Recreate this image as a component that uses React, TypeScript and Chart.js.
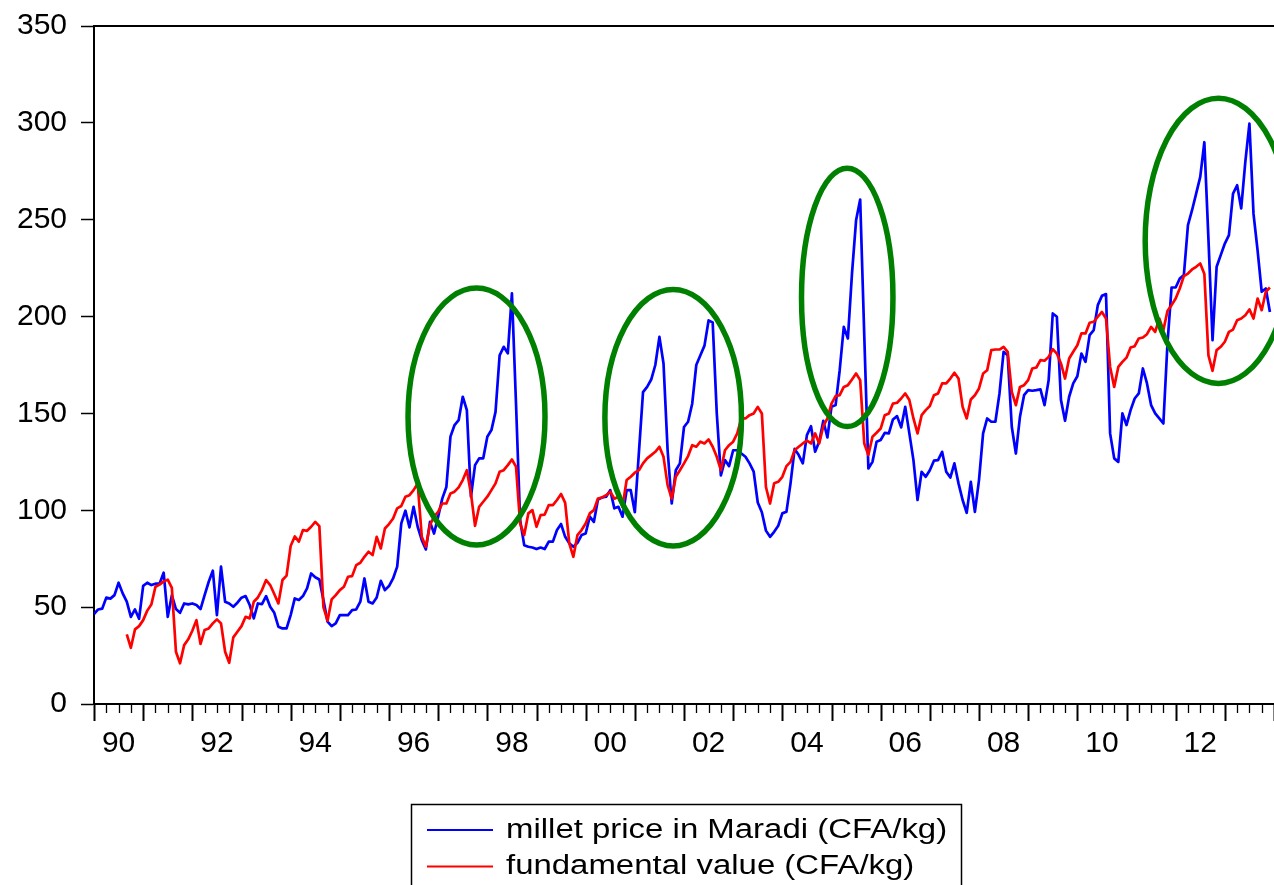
import React, { useEffect, useRef } from 'react';
import { Chart, registerables } from 'chart.js';

Chart.register(...registerables);

// ---------- data ----------
const START_YEAR = 1990;
const END_YEAR = 2014;

const seriesLabels = ['millet price in Maradi (CFA/kg)', 'fundamental value (CFA/kg)'];

// monthly, 1990m1 .. 2013m12
const milletPrice: number[] = [
  46.4, 48.8, 49.2, 54.9, 54.4, 56.2, 62.6, 57.1, 52.8, 45,
  48.8, 44, 61, 62.6, 61.4, 62.1, 62.1, 67.8, 45, 56.2,
  49, 47.1, 51.9, 51.4, 51.9, 51.1, 49, 56.2, 63.1, 68.8,
  45.9, 70.9, 52.8, 51.9, 50.2, 52.3, 54.9, 55.7, 51.1, 44.2,
  51.9, 51.6, 55.7, 50.2, 47.1, 39.9, 39, 39, 45.9, 54.5,
  53.7, 55.7, 59.7, 67.4, 65.4, 64.3, 53.7, 42.5, 40.2, 41.6,
  45.9, 45.9, 45.9, 48.5, 48.8, 52.8, 64.8, 52.8, 51.9, 55,
  63.6, 58.8, 60.9, 64.8, 70.9, 93.2, 99.8, 91.2, 101.8, 91.5,
  84.6, 79.8, 94, 88, 96.7, 106, 112, 138, 144, 146.5,
  158.6, 151.7, 107, 123.3, 126.8, 126.8, 138, 141.4, 150.8, 180,
  184.4, 181, 212, 155, 95, 82, 81.2, 80.8, 80, 80.8,
  80, 83.8, 83.8, 89.8, 92.9, 86.3, 82.9, 81.2, 83.2, 87.2,
  88, 96.7, 94, 105.6, 106.6, 107, 110.4, 101, 101.8, 96.7,
  110.4, 110.4, 99, 130, 161, 163.7, 167.5, 175, 189.5, 175.8,
  131, 103.5, 120.7, 124.2, 143, 145.7, 155, 175, 180, 185,
  198, 197, 150, 118, 125.9, 122.8, 131, 131, 129.3, 127.6,
  124.2, 120, 104, 99, 89.5, 86.3, 88.9, 92, 98.4, 99.2,
  113.9, 131.7, 128.5, 124.2, 138.8, 143.4, 130.2, 135.4, 146.2, 137.6,
  153.4, 154.3, 172.3, 194.7, 188.7, 222.2, 249.7, 260.4, 190, 121.6,
  125, 135.4, 136.3, 140, 139.7, 146.9, 148.6, 142.8, 153.4, 139.7,
  125.9, 105.3, 119.9, 117.3, 120.7, 125.6, 125.9, 130.2, 119.9, 116.9,
  124.2, 113.9, 105.3, 98.7, 114.7, 99.2, 115.6, 139.7, 147.4, 145.7,
  145.7, 160.3, 181.8, 180, 143.1, 129.3, 148.3, 159.4, 162, 161.7,
  162, 162.4, 154.3, 167.2, 201.6, 199.9, 157, 146.2, 158.6, 165.5,
  169.2, 180.9, 176.6, 190.4, 193, 205.9, 210.7, 211.6, 139.7, 126.8,
  125, 150, 144, 151.7, 157.7, 160.3, 173.2, 165.5, 154.3, 150,
  147.4, 144.8, 186.1, 215, 215, 219.6, 221.4, 247.2, 254.9, 263.5,
  272.1, 290, 240, 187.8, 225.7, 231.7, 237.7, 242, 263.5, 267.8,
  255.8, 279.8, 299.6, 253, 234, 212.8, 214.5, 202.4,
];

const fundamentalValue: (number | null)[] = [
  null, null, null, null, null, null, null, null, 35.9, 29,
  38.5, 40.2, 43.3, 48.2, 51.4, 60.5, 61.6, 63.3, 64.2, 60,
  27, 21, 30.4, 33.4, 37.8, 43.3, 31, 38.2, 39, 41.6,
  43.7, 41.6, 27, 21.3, 34.4, 37.3, 40.2, 45, 44.2, 52.8,
  55, 58.8, 64, 61.4, 56.8, 51.9, 64, 66.3, 81.6, 86.5,
  83.8, 89.8, 89.4, 91.5, 94, 91.8, 50, 43, 54, 56.2,
  58.8, 60.5, 65.7, 66, 71.7, 72.9, 76, 78.6, 76.9, 86.3,
  80.3, 90.6, 92.9, 95.8, 101, 102.2, 107, 107.8, 110.4, 113.9,
  86.3, 81.2, 92.4, 96.7, 99.2, 103.5, 103.5, 108.7, 109.6, 111.8,
  115.6, 120.7, 108.7, 92, 101.8, 104.4, 107, 110.4, 113.9, 119.9,
  120.7, 123.3, 126.2, 122.5, 93.2, 87.2, 98.4, 100.1, 91.5, 97.5,
  97.8, 102.7, 102.7, 105.3, 108.4, 103.8, 82.9, 76, 87.2, 89.8,
  93.2, 98.4, 100.1, 106.1, 106.6, 107.8, 109.6, 106, 107, 101.8,
  115.6, 117.3, 119.4, 120.7, 124.2, 126.8, 128.5, 130.2, 132.8, 127.6,
  113, 106, 117.3, 120.7, 124.2, 128, 133.6, 132.8, 135.4, 134.5,
  136.6, 132.8, 127.6, 120.7, 131, 133.6, 135.4, 139.7, 147.4, 147.4,
  149.1, 150, 153.4, 150, 112, 103.5, 113.9, 114.7, 117.3, 122.8,
  125, 131, 132.8, 134.5, 135.9, 134.5, 139.7, 134.5, 143.4, 147.4,
  155.1, 158.9, 159.4, 163.7, 164.6, 167.5, 170.6, 167.2, 134.5, 128.5,
  138, 140, 142.2, 149.1, 150, 155.1, 155.5, 157.7, 160.3, 156.9,
  147.4, 139.7, 149.1, 151.7, 153.8, 159.4, 160.3, 165.5, 165.5, 168,
  171, 168, 153.4, 147.4, 157.2, 159.4, 162.9, 170.6, 172.3, 182.7,
  183, 183, 184.4, 181.8, 161.1, 154.3, 163.7, 164.6, 167.2, 173.2,
  173.7, 177.5, 177.2, 179.2, 183.2, 180.9, 175.8, 168, 178.4, 181.8,
  185.2, 191.3, 191.3, 196.8, 197.3, 199.9, 202.4, 199, 174, 163.7,
  174, 176.6, 178.8, 184, 184.7, 188.7, 189.2, 190.9, 194.7, 192.1,
  199, 193, 202.9, 205.9, 209.3, 214.5, 220.9, 222.2, 224.3, 225.7,
  227.4, 222, 180, 172, 182.7, 184.4, 187, 192.1, 193.3, 198.1,
  199, 200.7, 203.7, 199, 209.3, 203.3, 212.8, 215,
];

// x tick labels (placed mid-year)
const xTickYears = [1990, 1992, 1994, 1996, 1998, 2000, 2002, 2004, 2006, 2008, 2010, 2012];
const xTickLabels = ['90', '92', '94', '96', '98', '00', '02', '04', '06', '08', '10', '12'];
const yTicks = [0, 50, 100, 150, 200, 250, 300, 350];

// highlighted bubble episodes (ellipses, data coordinates)
const ellipseCenterX = [1997.78, 2001.78, 2005.32, 2012.87];
const ellipseCenterY = [148.4, 147.8, 209.9, 239.1];
const ellipseRadiusX = [1.393, 1.389, 0.93, 1.49];
const ellipseRadiusY = [66.3, 66.2, 66.7, 73.6];

// ---------- styles ----------
const FONT = "'Liberation Sans', Arial, Helvetica, sans-serif";
const BLUE = '#0000ff';
const RED = '#ff0000';
const GREEN = '#008000';

const toPoints = (vals: (number | null)[]) =>
  vals.map((v, i) => ({ x: START_YEAR + i / 12, y: v }));

const decorPlugin = {
  id: 'decor',
  afterDatasetsDraw(chart: any) {
    const { ctx, scales } = chart;
    const x = scales.x;
    const y = scales.y;
    ctx.save();
    ctx.strokeStyle = GREEN;
    ctx.lineWidth = 5.5;
    for (let k = 0; k < ellipseCenterX.length; k++) {
      const cx = x.getPixelForValue(ellipseCenterX[k]);
      const cy = y.getPixelForValue(ellipseCenterY[k]);
      const rx = Math.abs(x.getPixelForValue(ellipseCenterX[k] + ellipseRadiusX[k]) - cx);
      const ry = Math.abs(y.getPixelForValue(ellipseCenterY[k] + ellipseRadiusY[k]) - cy);
      ctx.beginPath();
      ctx.ellipse(cx, cy, rx, ry, 0, 0, Math.PI * 2);
      ctx.stroke();
    }
    ctx.restore();
  },
  afterDraw(chart: any) {
    const { ctx, chartArea, scales } = chart;
    const x = scales.x;
    ctx.save();
    // top frame
    ctx.strokeStyle = '#000';
    ctx.lineWidth = 2;
    ctx.beginPath();
    ctx.moveTo(chartArea.left - 1, chartArea.top);
    ctx.lineTo(chartArea.right + 2, chartArea.top);
    ctx.stroke();
    // x tick marks: quarters (minor) and years (major)
    const nQ = (END_YEAR - START_YEAR) * 4;
    for (let q = 0; q <= nQ; q++) {
      const px = Math.round(x.getPixelForValue(START_YEAR + q / 4)) + 0.5;
      const major = q % 4 === 0;
      ctx.lineWidth = major ? 2 : 1.3;
      ctx.beginPath();
      ctx.moveTo(px, chartArea.bottom);
      ctx.lineTo(px, chartArea.bottom + (major ? 17 : 9));
      ctx.stroke();
    }
    // legend box
    const boxL = 411.5, boxT = 804.5, boxW = 550, boxH = 140;
    ctx.lineWidth = 1.5;
    ctx.strokeStyle = '#000';
    ctx.strokeRect(boxL, boxT, boxW, boxH);
    const lineRows = [830, 866.5];
    const baseRows = [837.5, 873.5];
    chart.data.datasets.forEach((ds: any, i: number) => {
      ctx.strokeStyle = ds.borderColor;
      ctx.lineWidth = 2.2;
      ctx.beginPath();
      ctx.moveTo(427, lineRows[i]);
      ctx.lineTo(493, lineRows[i]);
      ctx.stroke();
      ctx.save();
      ctx.fillStyle = '#000';
      ctx.font = `27px ${FONT}`;
      ctx.textBaseline = 'alphabetic';
      ctx.textAlign = 'left';
      ctx.translate(506, baseRows[i]);
      ctx.scale(1.22, 1);
      ctx.fillText(ds.label, 0, 0);
      ctx.restore();
    });
    ctx.restore();
  },
};

export default function App() {
  const canvasRef = useRef<HTMLCanvasElement>(null);

  useEffect(() => {
    const canvas = canvasRef.current;
    if (!canvas) return;
    const chart = new Chart(canvas, {
      type: 'line',
      data: {
        datasets: [
          {
            label: seriesLabels[0],
            data: toPoints(milletPrice) as any,
            borderColor: BLUE,
            borderWidth: 2.7,
            pointRadius: 0,
            tension: 0,
            fill: false,
            borderJoinStyle: 'round',
            order: 1,
          },
          {
            label: seriesLabels[1],
            data: toPoints(fundamentalValue) as any,
            borderColor: RED,
            borderWidth: 2.7,
            pointRadius: 0,
            tension: 0,
            fill: false,
            borderJoinStyle: 'round',
            spanGaps: false,
            order: 0,
          },
        ],
      },
      options: {
        responsive: false,
        animation: false,
        devicePixelRatio: 1,
        layout: { padding: { top: 26, right: 0, bottom: 0, left: 0 } },
        plugins: { legend: { display: false }, tooltip: { enabled: false } },
        scales: {
          x: {
            type: 'linear',
            min: START_YEAR,
            max: END_YEAR,
            afterBuildTicks: (scale: any) => {
              scale.ticks = xTickYears.map((yr) => ({ value: yr + 0.5 }));
            },
            afterFit: (scale: any) => {
              scale.height = 181;
              scale.paddingLeft = 0;
              scale.paddingRight = 0;
            },
            grid: { drawOnChartArea: false, drawTicks: false },
            border: { display: true, color: '#000', width: 2 },
            ticks: {
              autoSkip: false,
              maxRotation: 0,
              padding: 22,
              color: '#000',
              font: { size: 30, family: FONT },
              callback: (_v: any, idx: number) => xTickLabels[idx],
            },
          },
          y: {
            type: 'linear',
            min: 0,
            max: 350,
            afterBuildTicks: (scale: any) => {
              scale.ticks = yTicks.map((v) => ({ value: v }));
            },
            afterFit: (scale: any) => {
              scale.width = 94;
              scale.paddingTop = 0;
              scale.paddingBottom = 0;
            },
            grid: {
              drawOnChartArea: false,
              drawTicks: true,
              tickLength: 13,
              tickColor: '#000',
              tickWidth: 1.5,
            },
            border: { display: true, color: '#000', width: 2 },
            ticks: {
              padding: 14,
              color: '#000',
              font: { size: 30, family: FONT },
            },
          },
        },
      },
      plugins: [decorPlugin],
    });
    return () => chart.destroy();
  }, []);

  return (
    <div style={{ position: 'absolute', left: 0, top: 0, width: 1274, height: 885, background: '#fff', overflow: 'hidden' }}>
      <canvas ref={canvasRef} width={1274} height={885} style={{ display: 'block' }} />
    </div>
  );
}
